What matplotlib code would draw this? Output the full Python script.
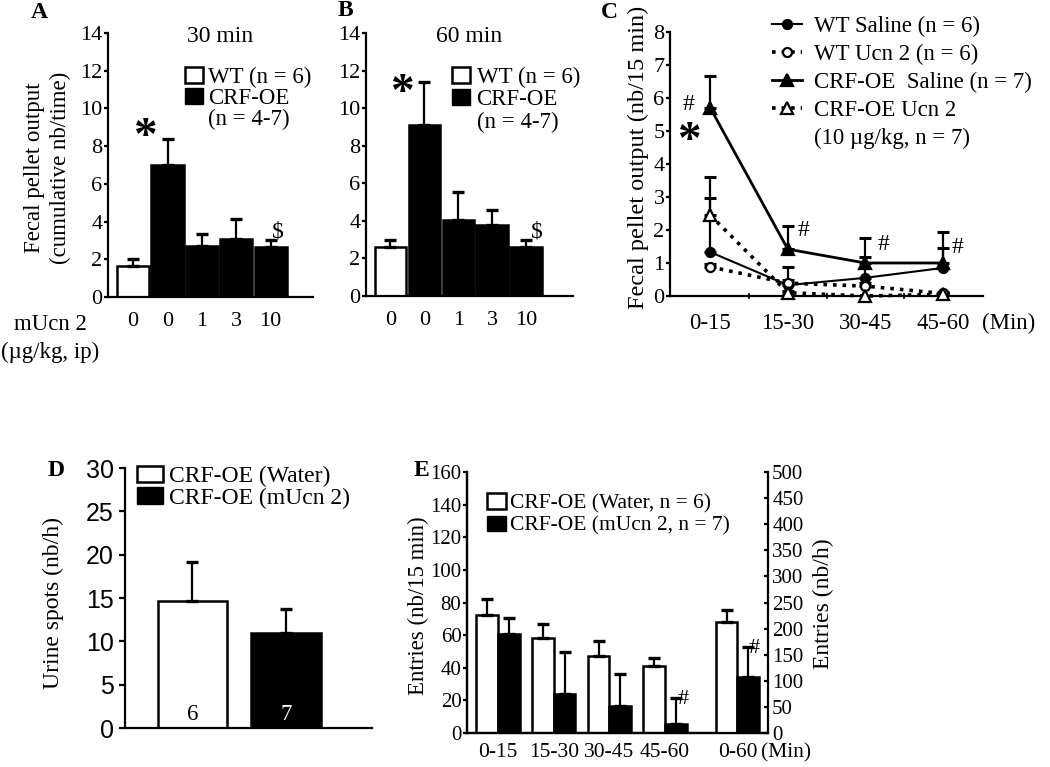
import matplotlib
matplotlib.use('Agg')
import matplotlib.pyplot as plt
from matplotlib.patches import Patch
from matplotlib.lines import Line2D
import numpy as np

# ---------------- data ----------------
A_doses = ['0', '0', '1', '3', '10']
A_vals = [1.65, 7.0, 2.7, 3.05, 2.65]
A_sem = [0.38, 1.38, 0.65, 1.1, 0.35]

B_doses = ['0', '0', '1', '3', '10']
B_vals = [2.6, 9.1, 4.05, 3.8, 2.6]
B_sem = [0.4, 2.3, 1.48, 0.77, 0.4]

C_periods = ['0-15', '15-30', '30-45', '45-60']
C_wt_saline = [1.33, 0.33, 0.55, 0.85]
C_wt_saline_sem = [1.63, 0.55, 0.63, 0.6]
C_wt_ucn2 = [0.88, 0.39, 0.3, 0.08]
C_wt_ucn2_sem = [0.08, 0.08, 0.08, 0.05]
C_crf_saline = [5.7, 1.42, 1.0, 1.0]
C_crf_saline_sem = [0.97, 0.7, 0.76, 0.95]
C_crf_ucn2 = [2.45, 0.1, 0.0, 0.05]
C_crf_ucn2_sem = [1.15, 0.05, 0.0, 0.05]

D_groups = ['CRF-OE (Water)', 'CRF-OE (mUcn 2)']
D_vals = [14.6, 10.95]
D_sem = [4.55, 2.8]
D_n = ['6', '7']

E_periods = ['0-15', '15-30', '30-45', '45-60']
E_water = [72.5, 58.1, 47.5, 41.2]
E_water_sem = [9.5, 8.8, 9.0, 4.7]
E_ucn2 = [60.5, 24.0, 16.7, 5.5]
E_ucn2_sem = [9.8, 25.5, 19.3, 16.1]
E_total_label = ['0-60']
E_total_water = [213]
E_total_water_sem = [23]
E_total_ucn2 = [108]
E_total_ucn2_sem = [57]

# ---------------- style ----------------
W, H = 1050, 767
plt.rcParams['font.family'] = ['Liberation Serif', 'DejaVu Serif']
plt.rcParams['font.size'] = 16
plt.rcParams['axes.linewidth'] = 1.6
plt.rcParams['xtick.major.width'] = 1.6
plt.rcParams['ytick.major.width'] = 1.6

fig = plt.figure(figsize=(10.5, 7.67), dpi=100)


def add_ax(l, t, r, b):
    return fig.add_axes([l / W, 1 - b / H, (r - l) / W, (b - t) / H])


def ftext(x, y, s, **kw):
    return fig.text(x / W, 1 - y / H, s, **kw)


def style(ax, labelsize=16, length=3, pad=1):
    for s in ['top', 'right']:
        ax.spines[s].set_visible(False)
    ax.tick_params(axis='y', direction='out', length=length, pad=pad, labelsize=labelsize)
    ax.set_facecolor('none')


def fig_loc(x, y):
    return (x / W, 1 - y / H)


def star(ax, x, y, size=34):
    ax.annotate('*', xy=(x, y), xytext=(0, -0.5 * size), textcoords='offset points',
                ha='center', va='baseline', fontsize=size, fontweight='bold')


ERR = dict(fmt='none', ecolor='black', elinewidth=1.6, capsize=4, capthick=2.4, zorder=3)

# ---------------- panel A ----------------
axA = add_ax(108, 33, 313, 297)
style(axA)
xa = np.arange(len(A_vals))
cols = ['white'] + ['black'] * (len(A_vals) - 1)
axA.bar(xa, A_vals, width=0.94, color=cols, edgecolor='black', linewidth=1.8, zorder=2)
axA.errorbar(xa, A_vals, yerr=[np.zeros(len(A_vals)), A_sem], **ERR)
axA.set_xlim(-0.73, 5.23)
axA.set_ylim(0, 14)
axA.set_yticks(range(0, 15, 2))
axA.set_xticks(xa, A_doses)
axA.tick_params(axis='x', length=0, pad=11, labelsize=16)
star(axA, 0.35, 9.1)
axA.text(4.22, 3.45, r'\$', ha='center', va='center', fontsize=17)
axA.legend([Patch(facecolor='white', edgecolor='black', linewidth=1.8),
            Patch(facecolor='black', edgecolor='black'),
            Patch(facecolor='none', edgecolor='none')],
           ['WT (n = 6)', 'CRF-OE', '(n = 4-7)'],
           loc='upper left', bbox_to_anchor=fig_loc(185, 67), bbox_transform=fig.transFigure,
           frameon=False, fontsize=16.5, handlelength=0.77, handleheight=0.68,
           handletextpad=0.25, labelspacing=0.0, borderpad=0, borderaxespad=0)
ftext(220, 37, '30 min', ha='center', va='center', fontsize=17)
ftext(48, 168, 'Fecal pellet output\n(cumulative nb/time)', rotation=90, ha='center',
      va='center', fontsize=16.5, linespacing=1.3, multialignment='center')
ftext(14, 325, 'mUcn 2', ha='left', va='center', fontsize=16.5)
ftext(1, 352, '(\u00b5g/kg, ip)', ha='left', va='center', fontsize=16.5)
ftext(39, 12, 'A', ha='center', va='center', fontsize=17, fontweight='bold')

# ---------------- panel B ----------------
axB = add_ax(366, 33, 573, 296)
style(axB)
xb = np.arange(len(B_vals))
axB.bar(xb, B_vals, width=0.93, color=cols, edgecolor='black', linewidth=1.8, zorder=2)
axB.errorbar(xb, B_vals, yerr=[np.zeros(len(B_vals)), B_sem], **ERR)
axB.set_xlim(-0.72, 5.38)
axB.set_ylim(0, 14)
axB.set_yticks(range(0, 15, 2))
axB.set_xticks(xb, B_doses)
axB.tick_params(axis='x', length=0, pad=11, labelsize=16)
star(axB, 0.34, 11.4)
axB.text(4.32, 3.4, r'\$', ha='center', va='center', fontsize=17)
axB.legend([Patch(facecolor='white', edgecolor='black', linewidth=1.8),
            Patch(facecolor='black', edgecolor='black'),
            Patch(facecolor='none', edgecolor='none')],
           ['WT (n = 6)', 'CRF-OE', '(n = 4-7)'],
           loc='upper left', bbox_to_anchor=fig_loc(452, 67), bbox_transform=fig.transFigure,
           frameon=False, fontsize=16.5, handlelength=0.77, handleheight=0.68,
           handletextpad=0.3, labelspacing=0.05, borderpad=0, borderaxespad=0)
ftext(469, 37, '60 min', ha='center', va='center', fontsize=17)
ftext(345, 10, 'B', ha='center', va='center', fontsize=17, fontweight='bold')

# ---------------- panel C ----------------
axC = add_ax(670, 32, 983, 296)
style(axC)
xc = np.arange(len(C_periods))
series = [
    (C_wt_saline, C_wt_saline_sem, '-', 'o', 'black', 1.5, 6.5, 'WT Saline (n = 6)'),
    (C_wt_ucn2, C_wt_ucn2_sem, ':', 'o', 'white', 2.6, 6.5, 'WT Ucn 2 (n = 6)'),
    (C_crf_saline, C_crf_saline_sem, '-', '^', 'black', 2.0, 8.5, 'CRF-OE  Saline (n = 7)'),
    (C_crf_ucn2, C_crf_ucn2_sem, ':', '^', 'white', 2.6, 8.5, 'CRF-OE Ucn 2'),
]
handles = []
for vals, sem, ls, mk, fc, lw, ms, lab in series:
    axC.errorbar(xc, vals, yerr=[np.zeros(len(vals)), sem], fmt='none', ecolor='black',
                 elinewidth=1.6, capsize=4, capthick=2.2, zorder=2)
    axC.plot(xc, vals, linestyle=ls, color='black', linewidth=lw, marker=mk, markersize=ms,
             markerfacecolor=fc, markeredgecolor='black', markeredgewidth=1.6, zorder=3,
             clip_on=False)
    handles.append(Line2D([], [], linestyle=ls, color='black', linewidth=lw, marker=mk,
                          markersize=ms, markerfacecolor=fc, markeredgecolor='black',
                          markeredgewidth=1.6))
handles.append(Line2D([], [], color='none'))
labels = [s[-1] for s in series] + ['(10 \u00b5g/kg, n = 7)']
axC.set_xlim(-0.52, 3.52)
axC.set_ylim(0, 8)
axC.set_yticks(range(0, 9))
axC.set_xticks(xc, C_periods)
axC.set_xticks([0.5, 1.5, 2.5], minor=True)
axC.tick_params(axis='x', which='major', length=0, pad=12, labelsize=16.5)
axC.tick_params(axis='x', which='minor', length=4, direction='inout', width=1.2)
axC.legend(handles, labels, loc='upper left', bbox_to_anchor=fig_loc(772, 16),
           bbox_transform=fig.transFigure, frameon=False, fontsize=16.5, handlelength=1.3,
           handletextpad=0.55, labelspacing=0.3, borderpad=0, borderaxespad=0)
axC.text(-0.28, 5.79, '#', ha='center', va='center', fontsize=17)
star(axC, -0.28, 5.05)
for xx, yy in [(1.2, 1.97), (2.23, 1.55), (3.19, 1.48)]:
    axC.text(xx, yy, '#', ha='center', va='center', fontsize=17)
ftext(1009, 323, '(Min)', ha='center', va='center', fontsize=16.5)
ftext(638, 157, 'Fecal pellet output (nb/15 min)', rotation=90, ha='center', va='center',
      fontsize=17.5)
ftext(609, 12, 'C', ha='center', va='center', fontsize=17, fontweight='bold')

# ---------------- panel D ----------------
axD = add_ax(125, 468, 372, 728)
style(axD, length=4, pad=4)
xd = np.arange(len(D_vals))
axD.bar(xd, D_vals, width=0.74, color=['white', 'black'], edgecolor='black', linewidth=1.8,
        zorder=2)
axD.errorbar(xd, D_vals, yerr=[np.zeros(len(D_vals)), D_sem], **ERR)
axD.set_xlim(-0.72, 1.92)
axD.set_ylim(0, 30)
axD.set_yticks(range(0, 31, 5))
axD.set_yticklabels([str(v) for v in range(0, 31, 5)], fontfamily='Liberation Sans', fontsize=18)
axD.set_xticks([])
for xx, n, c in zip(xd, D_n, ['black', 'white']):
    axD.text(xx, 0.3, n, ha='center', va='bottom', fontsize=16.5, color=c, zorder=4)
axD.legend([Patch(facecolor='white', edgecolor='black', linewidth=1.8),
            Patch(facecolor='black', edgecolor='black')], D_groups,
           loc='upper left', bbox_to_anchor=fig_loc(137, 466), bbox_transform=fig.transFigure,
           frameon=False, fontsize=17, handlelength=1.1, handleheight=0.68,
           handletextpad=0.25, labelspacing=0.0, borderpad=0, borderaxespad=0)
ftext(53, 603, 'Urine spots (nb/h)', rotation=90, ha='center', va='center', fontsize=17)
ftext(56, 470, 'D', ha='center', va='center', fontsize=17, fontweight='bold')

# ---------------- panel E ----------------
axE = add_ax(467, 472, 768, 733)
style(axE, labelsize=15, length=3, pad=1)
xe = np.arange(len(E_periods))
xt = np.array([len(E_periods) + 0.3])
bw = 0.39
axE.bar(xe - bw / 2, E_water, width=bw, color='white', edgecolor='black', linewidth=1.8, zorder=2)
axE.bar(xe + bw / 2, E_ucn2, width=bw, color='black', edgecolor='black', linewidth=1.8, zorder=2)
axE.errorbar(xe - bw / 2, E_water, yerr=[np.zeros(len(xe)), E_water_sem], **ERR)
axE.errorbar(xe + bw / 2, E_ucn2, yerr=[np.zeros(len(xe)), E_ucn2_sem], **ERR)
axE.set_xlim(-0.56, 4.85)
axE.set_ylim(0, 160)
axE.set_yticks(range(0, 161, 20))
axE.set_xticks(list(xe) + list(xt), E_periods + E_total_label)
axE.tick_params(axis='x', length=0, pad=7, labelsize=15.5)
axE2 = axE.twinx()
axE2.spines['top'].set_visible(False)
axE2.spines['right'].set_linewidth(1.6)
axE2.set_xlim(-0.56, 4.85)
axE2.set_ylim(0, 500)
axE2.set_yticks(range(0, 501, 50))
axE2.tick_params(axis='y', direction='in', length=3, pad=3, labelsize=15)
axE2.bar(xt - bw / 2, E_total_water, width=bw, color='white', edgecolor='black', linewidth=1.8,
         zorder=2)
axE2.bar(xt + bw / 2, E_total_ucn2, width=bw, color='black', edgecolor='black', linewidth=1.8,
         zorder=2)
axE2.errorbar(xt - bw / 2, E_total_water, yerr=[[0], E_total_water_sem], **ERR)
axE2.errorbar(xt + bw / 2, E_total_ucn2, yerr=[[0], E_total_ucn2_sem], **ERR)
axE.text(3.32, 20.8, '#', ha='center', va='center', fontsize=16)
axE2.text(4.6, 162, '#', ha='center', va='center', fontsize=16)
axE2.legend([Patch(facecolor='white', edgecolor='black', linewidth=1.8),
             Patch(facecolor='black', edgecolor='black')],
            ['CRF-OE (Water, n = 6)', 'CRF-OE (mUcn 2, n = 7)'],
            loc='upper left', bbox_to_anchor=fig_loc(487, 493), bbox_transform=fig.transFigure,
            frameon=False, fontsize=15.5, handlelength=0.9, handleheight=0.75,
            handletextpad=0.15, labelspacing=0.1, borderpad=0, borderaxespad=0)
ftext(786, 753, '(Min)', ha='center', va='center', fontsize=15.5)
ftext(418, 606, 'Entries (nb/15 min)', rotation=90, ha='center', va='center', fontsize=16.5)
ftext(823, 604, 'Entries (nb/h)', rotation=90, ha='center', va='center', fontsize=17)
ftext(421, 471, 'E', ha='center', va='center', fontsize=17, fontweight='bold')

fig.savefig('out.png', dpi=100)
